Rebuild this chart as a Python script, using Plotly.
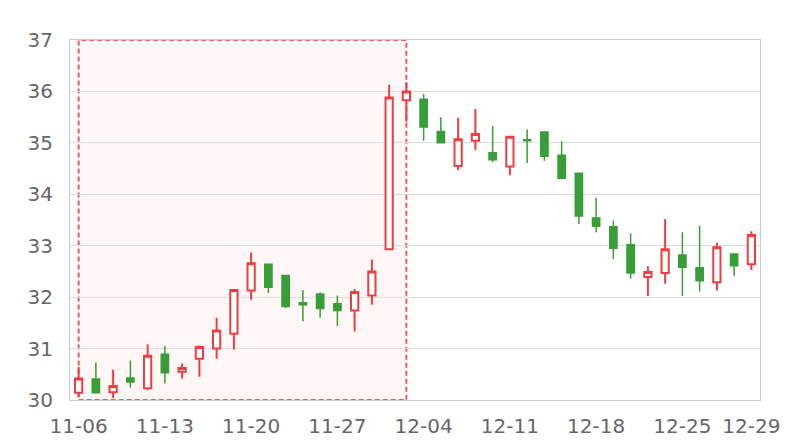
import plotly.graph_objects as go

dates = ["11-06", "11-07", "11-08", "11-09", "11-10",
         "11-13", "11-14", "11-15", "11-16", "11-17",
         "11-20", "11-21", "11-22", "11-23", "11-24",
         "11-27", "11-28", "11-29", "11-30", "12-01",
         "12-04", "12-05", "12-06", "12-07", "12-08",
         "12-11", "12-12", "12-13", "12-14", "12-15",
         "12-18", "12-19", "12-20", "12-21", "12-22",
         "12-25", "12-26", "12-27", "12-28", "12-29"]

opens = [30.14, 30.41, 30.15, 30.43, 30.23, 30.89, 30.55, 30.80, 31.00, 31.29,
         32.13, 32.64, 32.42, 31.89, 32.06, 31.87, 31.74, 32.03, 32.93, 35.83,
         35.85, 35.22, 34.55, 35.04, 34.81, 34.54, 35.06, 35.21, 34.76, 34.41,
         33.54, 33.37, 33.02, 32.39, 32.47, 32.82, 32.57, 32.29, 32.84, 32.64]
highs = [30.64, 30.73, 30.59, 30.77, 31.08, 31.05, 30.71, 31.06, 31.60, 32.16,
         32.87, 32.65, 32.42, 32.14, 32.09, 32.03, 32.16, 32.73, 36.13, 36.18,
         35.95, 35.50, 35.49, 35.66, 35.33, 35.14, 35.26, 35.21, 35.03, 34.41,
         33.93, 33.49, 33.24, 32.60, 33.52, 33.26, 33.39, 33.06, 32.84, 33.28]
lows = [30.06, 30.13, 30.04, 30.24, 30.19, 30.32, 30.42, 30.45, 30.80, 30.98,
        31.95, 32.08, 31.79, 31.53, 31.60, 31.44, 31.33, 31.85, 32.93, 35.41,
        35.04, 35.00, 34.47, 34.86, 34.63, 34.37, 34.61, 34.65, 34.30, 33.42,
        33.26, 32.74, 32.36, 32.02, 32.26, 32.02, 32.11, 32.13, 32.41, 32.53]
closes = [30.42, 30.14, 30.27, 30.35, 30.86, 30.53, 30.62, 31.03, 31.35, 32.14,
          32.66, 32.19, 31.82, 31.85, 31.78, 31.74, 32.10, 32.50, 35.88, 36.00,
          35.31, 35.00, 35.07, 35.17, 34.67, 35.12, 35.04, 34.74, 34.31, 33.58,
          33.38, 32.95, 32.47, 32.49, 32.93, 32.58, 32.32, 32.97, 32.61, 33.21]

tick_labels = ["11-06", "11-13", "11-20", "11-27", "12-04", "12-11", "12-18", "12-25", "12-29"]
highlight_start = "11-06"
highlight_end = "12-01"
y_ticks = [30, 31, 32, 33, 34, 35, 36, 37]

UP = "#ea3f43"
DOWN = "#389e37"
FONT = "DejaVu Sans"

fig = go.Figure()
fig.add_trace(go.Candlestick(
    x=dates, open=opens, high=highs, low=lows, close=closes,
    increasing=dict(line=dict(color=UP, width=2), fillcolor="#ffffff"),
    decreasing=dict(line=dict(color=DOWN, width=1.5), fillcolor=DOWN),
    showlegend=False,
))

fig.add_shape(
    type="rect", xref="x", yref="y",
    x0=highlight_start, x1=highlight_end, y0=y_ticks[0], y1=y_ticks[-1],
    fillcolor="rgba(255,235,235,0.45)",
    line=dict(color="#f0595c", width=2, dash="5px,3px"),
    layer="below",
)

fig.update_layout(
    width=800, height=440,
    margin=dict(l=70, r=40, t=40, b=40),
    paper_bgcolor="white", plot_bgcolor="white",
    font=dict(family=FONT, size=20, color="#666666"),
    boxgap=0.4,
)
fig.update_xaxes(
    type="category", automargin=False,
    rangeslider_visible=False,
    tickmode="array", tickvals=tick_labels, ticktext=tick_labels,
    showgrid=False, showline=True, linecolor="#cccccc", linewidth=1,
    mirror=True, ticks="", ticklabelstandoff=8,
    tickfont=dict(family=FONT, size=20, color="#666666"),
)
fig.update_yaxes(
    automargin=False,
    range=[y_ticks[0], y_ticks[-1]], tickmode="array", tickvals=y_ticks,
    showgrid=True, gridcolor="#dddddd", gridwidth=1,
    showline=True, linecolor="#cccccc", linewidth=1, mirror=True,
    zeroline=False, ticks="", ticklabelstandoff=12,
    tickfont=dict(family=FONT, size=20, color="#666666"),
)

fig.write_html(
    "out.html",
    config={"displayModeBar": False},
    post_script="document.body.style.margin='0';document.body.style.overflow='hidden';",
)
